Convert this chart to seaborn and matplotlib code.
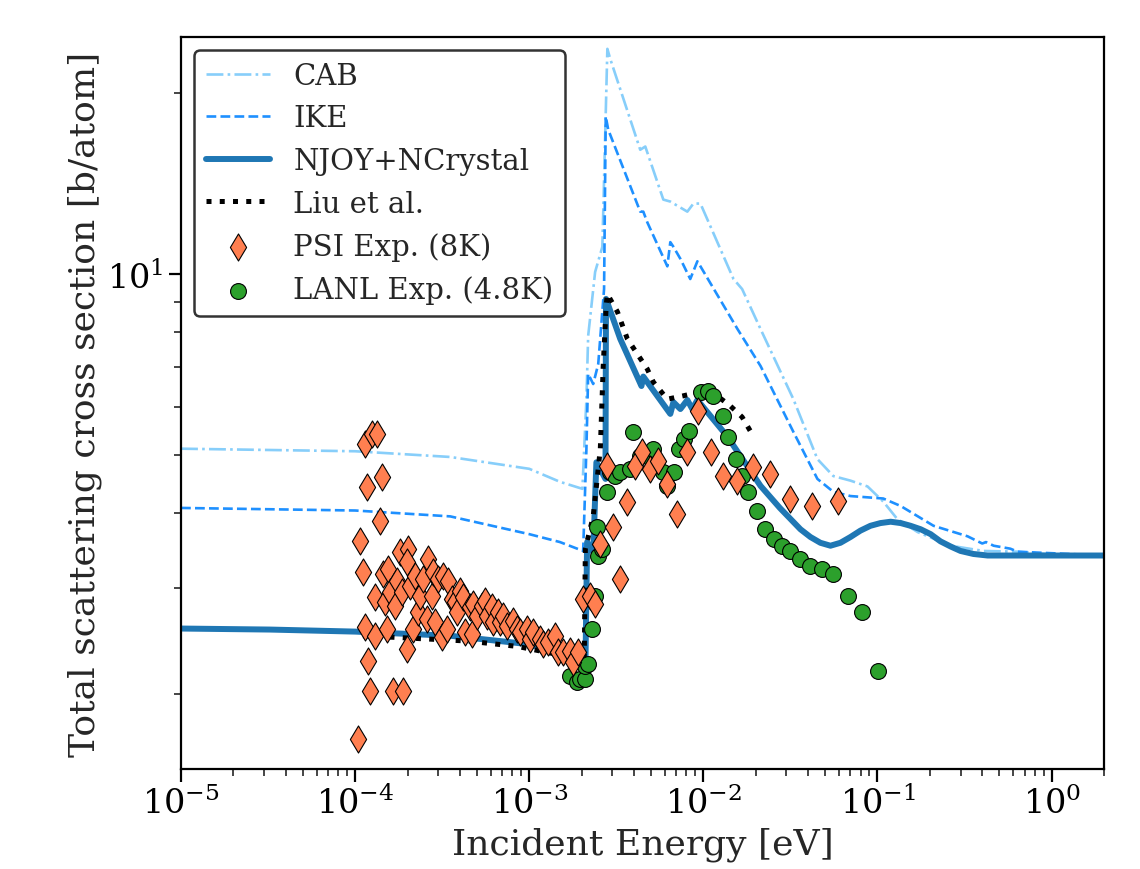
import numpy as np
import matplotlib
matplotlib.use("Agg")
import matplotlib.pyplot as plt
import matplotlib.ticker as mticker
import seaborn as sns

# CAB (dash-dot)
cab_e = [1e-5, 1e-4, 3.52e-4, 1e-3, 1.5e-3, 2.02e-3, 2.13e-3, 2.18e-3, 2.39e-3, 2.63e-3, 2.81e-3,
         2.92e-3, 4.34e-3, 4.64e-3, 5.89e-3, 6.46e-3, 8.09e-3, 8.77e-3, 9.62e-3, 1.49e-2, 1.67e-2,
         2.13e-2, 3.29e-2, 4.52e-2, 5.58e-2, 7.0e-2, 8.77e-2, 0.108, 0.130, 0.170, 0.263, 0.407,
         0.638, 1.24, 2.0]
cab_xs = [5.12, 5.07, 4.96, 4.74, 4.51, 4.39, 6.19, 7.89, 10.08, 11.1, 23.7,
          22.8, 16.1, 16.3, 13.3, 13.2, 12.7, 13.1, 13.1, 9.81, 9.44,
          8.10, 6.19, 4.92, 4.61, 4.53, 4.43, 4.18, 3.91, 3.72, 3.53, 3.46,
          3.45, 3.40, 3.40]

# IKE (dashed)
ike_e = [1e-5, 1e-4, 3.52e-4, 1e-3, 1.5e-3, 2.04e-3, 2.13e-3, 2.18e-3, 2.33e-3, 2.49e-3, 2.69e-3,
         2.75e-3, 2.84e-3, 4.34e-3, 4.52e-3, 4.76e-3, 6.21e-3, 6.46e-3, 6.73e-3, 7.38e-3, 8.41e-3,
         9.24e-3, 9.62e-3, 1.57e-2, 2.13e-2, 3.29e-2, 4.52e-2, 5.58e-2, 7.0e-2, 0.108, 0.136,
         0.210, 0.329, 0.40, 0.42, 0.465, 0.58, 0.638, 2.0]
ike_xs = [4.08, 4.04, 3.95, 3.69, 3.58, 3.46, 5.12, 6.82, 6.56, 7.08, 9.44,
          18.3, 17.4, 12.7, 12.7, 12.2, 10.3, 11.3, 11.1, 10.6, 9.81,
          10.5, 10.3, 8.10, 7.03, 5.46, 4.56, 4.34, 4.27, 4.23, 4.11,
          3.81, 3.66, 3.56, 3.58, 3.53, 3.49, 3.45, 3.40]

# NJOY+NCrystal (solid)
njoy_e = [1e-5, 3.24e-5, 1e-4, 3.52e-4, 1e-3, 1.5e-3, 1.91e-3, 2.10e-3, 2.15e-3, 2.33e-3, 2.43e-3,
          2.74e-3, 2.76e-3, 3.33e-3, 4.41e-3, 4.52e-3, 6.46e-3, 6.73e-3, 7.38e-3, 8.09e-3, 8.64e-3,
          9.24e-3, 1.37e-2, 2.13e-2, 2.75e-2, 3.61e-2, 4.12e-2, 4.70e-2, 5.37e-2, 6.13e-2, 7.0e-2,
          7.98e-2, 9.11e-2, 0.104, 0.119, 0.136, 0.155, 0.177, 0.202, 0.230, 0.263, 0.300, 0.356,
          0.429, 0.559, 2.0]
njoy_xs = [2.57, 2.56, 2.54, 2.50, 2.42, 2.33, 2.24, 2.18, 3.58, 3.44, 4.86,
           4.56, 9.09, 7.80, 6.51, 6.75, 5.85, 6.12, 5.96, 6.17, 5.96,
           6.17, 5.37, 4.44, 4.08, 3.76, 3.65, 3.57, 3.53, 3.57, 3.65,
           3.74, 3.81, 3.85, 3.87, 3.85, 3.81, 3.76, 3.69, 3.59, 3.52, 3.46, 3.42,
           3.40, 3.40, 3.40]

# Liu et al. (dotted)
liu_e = [1.11e-4, 4.41e-4, 8.53e-4, 1.65e-3, 1.96e-3, 2.07e-3, 2.10e-3, 2.33e-3, 2.56e-3, 2.66e-3,
         2.77e-3, 2.81e-3, 3.21e-3, 3.66e-3, 4.76e-3, 5.16e-3, 6.21e-3, 7.67e-3, 9.62e-3, 1.20e-2,
         1.43e-2, 1.67e-2, 1.86e-2]
liu_xs = [2.50, 2.45, 2.40, 2.31, 2.26, 2.28, 3.49, 3.95, 5.12, 7.03,
          8.91, 9.26, 8.65, 7.80, 6.95, 6.61, 6.19, 6.27, 6.37, 6.27,
          6.03, 5.78, 5.48]

# PSI Exp. (8K)
psi_e = [1.04e-4, 1.14e-4, 1.25e-4, 1.34e-4, 1.07e-4, 1.17e-4, 1.43e-4, 1.39e-4, 1.11e-4, 1.19e-4,
         1.22e-4, 1.14e-4, 1.30e-4, 1.30e-4, 1.45e-4, 1.55e-4, 1.53e-4, 1.49e-4, 1.59e-4, 1.70e-4,
         1.74e-4, 1.65e-4, 1.89e-4, 1.81e-4, 2.02e-4, 1.99e-4, 1.86e-4, 2.07e-4, 2.15e-4, 1.99e-4,
         2.21e-4, 2.30e-4, 2.36e-4, 2.46e-4, 2.63e-4, 2.59e-4, 2.77e-4, 2.88e-4, 2.81e-4, 3.00e-4,
         3.16e-4, 3.20e-4, 3.38e-4, 3.42e-4, 3.61e-4, 3.75e-4, 4.01e-4, 3.86e-4, 4.18e-4, 4.29e-4,
         4.58e-4, 4.77e-4, 4.70e-4, 5.02e-4, 5.37e-4, 5.59e-4, 5.74e-4, 6.13e-4, 6.21e-4, 6.63e-4,
         6.81e-4, 7.09e-4, 7.47e-4, 8.09e-4, 8.53e-4, 8.88e-4, 9.74e-4, 1.01e-3, 1.05e-3, 1.16e-3,
         1.20e-3, 1.29e-3, 1.41e-3, 1.47e-3, 1.57e-3, 1.72e-3, 1.79e-3, 1.91e-3, 2.04e-3, 2.24e-3,
         2.39e-3, 2.56e-3, 2.81e-3, 3.33e-3, 3.04e-3, 3.66e-3, 4.07e-3, 4.46e-3, 4.96e-3, 5.51e-3,
         6.21e-3, 7.09e-3, 8.09e-3, 9.36e-3, 1.10e-2, 1.30e-2, 1.57e-2, 1.94e-2, 2.43e-2, 3.16e-2,
         4.23e-2, 5.97e-2]
psi_xs = [1.68, 5.21, 5.42, 5.42, 3.59, 4.42, 4.59, 3.88, 3.19, 2.27,
          2.02, 2.59, 2.50, 2.90, 3.17, 3.23, 2.57, 2.85, 2.96, 2.80,
          3.08, 2.02, 2.02, 3.45, 3.49, 3.32, 2.96, 3.03, 2.57, 2.38,
          3.14, 2.74, 2.91, 3.11, 3.36, 2.67, 2.91, 2.64, 3.19, 3.11,
          2.49, 3.14, 2.57, 3.08, 2.88, 2.85, 2.97, 2.74, 2.90, 2.54,
          2.79, 2.82, 2.52, 2.70, 2.80, 2.86, 2.70, 2.79, 2.64, 2.74,
          2.64, 2.70, 2.60, 2.65, 2.57, 2.54, 2.57, 2.47, 2.54, 2.47,
          2.42, 2.44, 2.50, 2.35, 2.35, 2.36, 2.26, 2.35, 2.88, 2.91,
          2.82, 3.55, 4.79, 3.11, 3.79, 4.18, 4.79, 5.06, 4.74, 4.89,
          4.47, 3.99, 5.06, 5.92, 5.06, 4.61, 4.52, 4.77, 4.65, 4.22,
          4.11, 4.19]

# LANL Exp. (4.8K)
lanl_e = [1.72e-3, 1.89e-3, 1.96e-3, 2.10e-3, 2.10e-3, 2.18e-3, 2.30e-3, 2.39e-3, 2.46e-3, 2.49e-3,
          2.63e-3, 2.81e-3, 2.92e-3, 3.10e-3, 3.33e-3, 3.81e-3, 3.96e-3, 4.34e-3, 4.77e-3, 5.16e-3,
          5.89e-3, 6.21e-3, 6.81e-3, 7.28e-3, 7.78e-3, 8.31e-3, 9.74e-3, 1.07e-2, 1.14e-2, 1.30e-2,
          1.39e-2, 1.53e-2, 1.67e-2, 1.81e-2, 2.04e-2, 2.27e-2, 2.53e-2, 2.84e-2, 3.16e-2, 3.61e-2,
          4.12e-2, 4.83e-2, 5.59e-2, 6.81e-2, 8.20e-2, 0.101]
lanl_xs = [2.14, 2.09, 2.12, 2.12, 2.23, 2.24, 2.57, 2.91, 3.79, 3.40,
           3.49, 4.34, 4.68, 4.62, 4.68, 4.74, 5.46, 4.98, 4.98, 5.11,
           4.68, 4.44, 4.68, 5.11, 5.31, 5.48, 6.36, 6.39, 6.27, 5.80,
           5.36, 4.92, 4.61, 4.34, 4.03, 3.76, 3.62, 3.52, 3.46, 3.36,
           3.27, 3.23, 3.17, 2.91, 2.74, 2.18]

sns.set_style("ticks")
plt.rcParams["font.family"] = ["DejaVu Serif"]
plt.rcParams["mathtext.fontset"] = "dejavuserif"

fig = plt.figure(figsize=(11.4, 8.7), dpi=100)
ax = fig.add_axes([0.1588, 0.1149, 0.8096, 0.8414])
ax.set_xscale("log")
ax.set_yscale("log")

sns.lineplot(x=cab_e, y=cab_xs, ax=ax, color="#87CEFA", linestyle="-.", lw=1.9,
             sort=False, estimator=None, label="CAB")
sns.lineplot(x=ike_e, y=ike_xs, ax=ax, color="#1E90FF", linestyle="--", lw=1.9,
             sort=False, estimator=None, label="IKE")
sns.lineplot(x=njoy_e, y=njoy_xs, ax=ax, color="#1f77b4", linestyle="-", lw=4.3,
             sort=False, estimator=None, label="NJOY+NCrystal")
sns.lineplot(x=liu_e, y=liu_xs, ax=ax, color="black", linestyle=":", lw=3.6,
             sort=False, estimator=None, label="Liu et al.")
sns.scatterplot(x=psi_e, y=psi_xs, ax=ax, marker="d", s=190, color="#FF7F50",
                edgecolor="black", linewidth=0.8, zorder=4, label="PSI Exp. (8K)")
sns.scatterplot(x=lanl_e, y=lanl_xs, ax=ax, marker="o", s=130, color="#2ca02c",
                edgecolor="black", linewidth=0.8, zorder=3, label="LANL Exp. (4.8K)")

ax.set_xlim(1e-5, 2.0)
ax.set_ylim(1.5, 24.8)
ax.yaxis.set_minor_formatter(mticker.NullFormatter())
ax.xaxis.set_major_locator(mticker.LogLocator(base=10, numticks=12))
ax.xaxis.set_minor_locator(mticker.LogLocator(base=10, subs=np.arange(2, 10), numticks=12))
ax.xaxis.set_minor_formatter(mticker.NullFormatter())

ax.tick_params(which="major", labelsize=24, length=9, width=1.6, colors="black")
ax.tick_params(which="minor", length=5, width=1.2)
for sp in ax.spines.values():
    sp.set_linewidth(1.6)
    sp.set_color("black")

ax.set_xlabel("Incident Energy [eV]", fontsize=26)
ax.set_ylabel("Total scattering cross section [b/atom]", fontsize=26)

leg = ax.legend(loc="upper left", fontsize=21, frameon=True, fancybox=True,
                framealpha=1, edgecolor="#333333", handlelength=2.2,
                borderaxespad=0.45)
leg.get_frame().set_linewidth(1.8)

fig.savefig("out.png", dpi=100)
